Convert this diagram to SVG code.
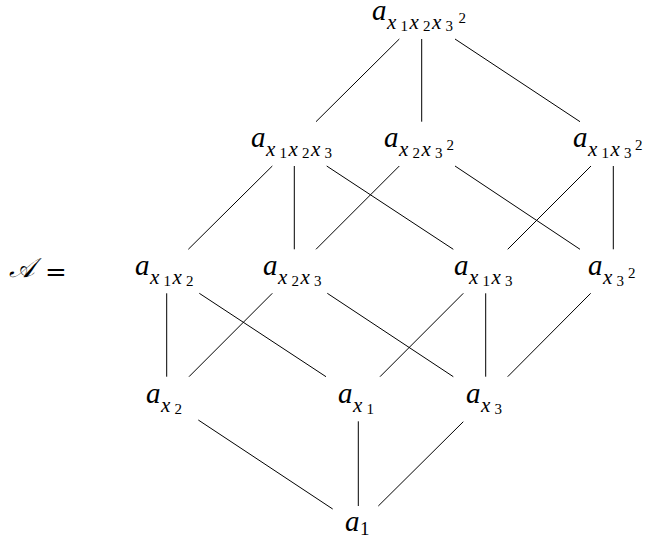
<svg xmlns="http://www.w3.org/2000/svg" width="648" height="543" viewBox="0 0 648 543">
<style>
text{font-family:"Liberation Serif","DejaVu Serif",serif;fill:#000}
.a{font-family:"Liberation Serif",serif;font-style:italic;font-size:29px}
.x{font-family:"Liberation Serif",serif;font-style:italic;font-size:21px}
.d{font-family:"Liberation Serif",serif;font-size:15px}
.s{font-family:"Liberation Serif",serif;font-size:19px}
.eq{font-family:"DejaVu Serif",serif;font-size:26px}
.cal{font-family:"DejaVu Sans","Noto Sans",serif;font-style:italic;font-size:27px}
#edges line{stroke:#000;stroke-width:1;fill:none}
</style>
<rect width="648" height="543" fill="#fff"/>
<g id="edges">
<line x1="399.3" y1="39" x2="316" y2="121.7"/>
<line x1="421.7" y1="39" x2="421.7" y2="121.7"/>
<line x1="455" y1="39" x2="580" y2="121.7"/>
<line x1="272.3" y1="166" x2="188.3" y2="249.3"/>
<line x1="294.3" y1="166" x2="294.3" y2="249.3"/>
<line x1="326.7" y1="166" x2="453.3" y2="249.3"/>
<line x1="399.3" y1="166" x2="316" y2="249.3"/>
<line x1="455" y1="166" x2="580" y2="249.3"/>
<line x1="591" y1="166" x2="507.7" y2="249.3"/>
<line x1="613.3" y1="166" x2="613.3" y2="249.3"/>
<line x1="166.7" y1="293.3" x2="166.7" y2="376.7"/>
<line x1="199.3" y1="293.3" x2="326" y2="376.7"/>
<line x1="272.3" y1="293.3" x2="189" y2="376.7"/>
<line x1="327.3" y1="293.3" x2="453.3" y2="376.7"/>
<line x1="463.3" y1="293.3" x2="380" y2="376.7"/>
<line x1="485.7" y1="293.3" x2="485.7" y2="376.7"/>
<line x1="590.7" y1="293.3" x2="507.7" y2="376.7"/>
<line x1="198.3" y1="420" x2="332.7" y2="509"/>
<line x1="358.3" y1="421.3" x2="358.3" y2="506"/>
<line x1="463.3" y1="421.7" x2="378.3" y2="506"/>
</g>
<g id="label-A">
<text class="cal" x="9" y="277">𝒜</text>
<text class="eq" x="45" y="281">=</text>
</g>
<g id="n-x1x2x3sq">
<text><tspan class="a" x="372" y="20">a</tspan><tspan class="x" x="387" y="28.5">x</tspan><tspan class="d" x="400.5" y="30.5">1</tspan><tspan class="x" x="409.5" y="28.5">x</tspan><tspan class="d" x="423" y="30.5">2</tspan><tspan class="x" x="432" y="28.5">x</tspan><tspan class="d" x="445.5" y="30.5">3</tspan><tspan class="d" x="458.5" y="22.5">2</tspan></text>
</g>
<g id="n-x1x2x3">
<text><tspan class="a" x="251" y="147">a</tspan><tspan class="x" x="266" y="155.5">x</tspan><tspan class="d" x="279.5" y="157.5">1</tspan><tspan class="x" x="288.5" y="155.5">x</tspan><tspan class="d" x="302" y="157.5">2</tspan><tspan class="x" x="311" y="155.5">x</tspan><tspan class="d" x="324.5" y="157.5">3</tspan></text>
</g>
<g id="n-x2x3sq">
<text><tspan class="a" x="384" y="147">a</tspan><tspan class="x" x="399" y="155.5">x</tspan><tspan class="d" x="412.5" y="157.5">2</tspan><tspan class="x" x="421.5" y="155.5">x</tspan><tspan class="d" x="435" y="157.5">3</tspan><tspan class="d" x="446.5" y="149.5">2</tspan></text>
</g>
<g id="n-x1x3sq">
<text><tspan class="a" x="573" y="147">a</tspan><tspan class="x" x="588" y="155.5">x</tspan><tspan class="d" x="601.5" y="157.5">1</tspan><tspan class="x" x="610.5" y="155.5">x</tspan><tspan class="d" x="624" y="157.5">3</tspan><tspan class="d" x="635" y="149.5">2</tspan></text>
</g>
<g id="n-x1x2">
<text><tspan class="a" x="135" y="275">a</tspan><tspan class="x" x="150" y="283.5">x</tspan><tspan class="d" x="163.5" y="285.5">1</tspan><tspan class="x" x="172.5" y="283.5">x</tspan><tspan class="d" x="186" y="285.5">2</tspan></text>
</g>
<g id="n-x2x3">
<text><tspan class="a" x="263" y="275">a</tspan><tspan class="x" x="278" y="283.5">x</tspan><tspan class="d" x="291.5" y="285.5">2</tspan><tspan class="x" x="300.5" y="283.5">x</tspan><tspan class="d" x="314" y="285.5">3</tspan></text>
</g>
<g id="n-x1x3">
<text><tspan class="a" x="454" y="275">a</tspan><tspan class="x" x="469" y="283.5">x</tspan><tspan class="d" x="482.5" y="285.5">1</tspan><tspan class="x" x="491.5" y="283.5">x</tspan><tspan class="d" x="505" y="285.5">3</tspan></text>
</g>
<g id="n-x3sq">
<text><tspan class="a" x="588" y="275">a</tspan><tspan class="x" x="603" y="283.5">x</tspan><tspan class="d" x="616.5" y="285.5">3</tspan><tspan class="d" x="628" y="277.5">2</tspan></text>
</g>
<g id="n-x2">
<text><tspan class="a" x="146" y="403">a</tspan><tspan class="x" x="161" y="411.5">x</tspan><tspan class="d" x="174.5" y="413.5">2</tspan></text>
</g>
<g id="n-x1">
<text><tspan class="a" x="338" y="403">a</tspan><tspan class="x" x="353" y="411.5">x</tspan><tspan class="d" x="366.5" y="413.5">1</tspan></text>
</g>
<g id="n-x3">
<text><tspan class="a" x="466" y="403">a</tspan><tspan class="x" x="481" y="411.5">x</tspan><tspan class="d" x="494.5" y="413.5">3</tspan></text>
</g>
<g id="n-1">
<text><tspan class="a" x="345" y="531">a</tspan><tspan class="s" x="360" y="535">1</tspan></text>
</g>
</svg>
